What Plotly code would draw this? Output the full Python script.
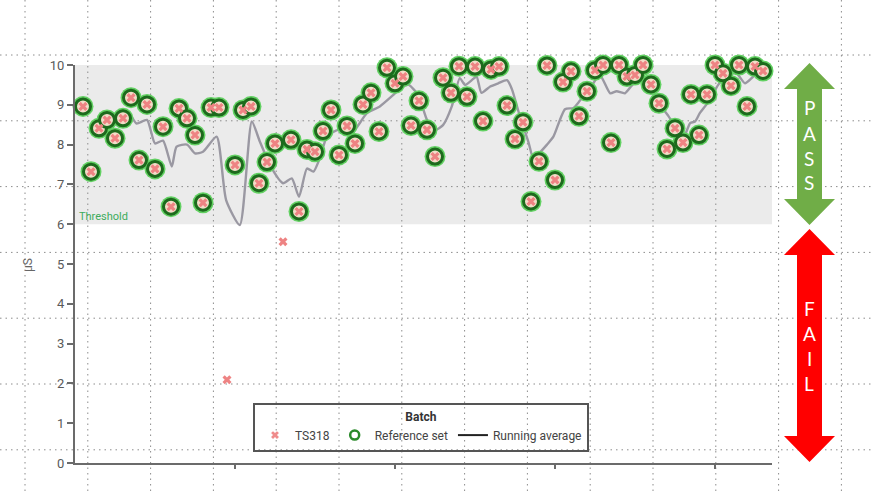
import plotly.graph_objects as go

# ---------------- data ----------------
batch = list(range(1, 87))
ts318 = [8.96, 7.32, 8.41, 8.62, 8.16, 8.66, 9.18, 7.61, 9.01, 7.39,
         8.45, 6.44, 8.91, 8.66, 8.24, 6.54, 8.93, 8.93, 2.09, 7.49,
         8.87, 8.96, 7.03, 7.56, 8.03, 5.56, 8.12, 6.32, 7.88, 7.82,
         8.34, 8.87, 7.74, 8.47, 8.03, 9.01, 9.30, 8.33, 9.93, 9.54,
         9.71, 8.48, 9.10, 8.37, 7.70, 9.68, 9.30, 9.97, 9.20, 9.96,
         8.59, 9.89, 9.96, 8.98, 8.14, 8.56, 6.57, 7.58, 9.99, 7.11,
         9.57, 9.84, 8.71, 9.34, 9.87, 10.0, 8.05, 10.0, 9.71, 9.75,
         10.0, 9.51, 9.04, 7.89, 8.41, 8.05, 9.26, 8.24, 9.26, 10.0,
         9.79, 9.48, 10.0, 8.96, 9.96, 9.85]
outlier_batches = [19, 26]
reference = [None if b in outlier_batches else v for b, v in zip(batch, ts318)]

avg_batch = [7.1, 7.7, 9.0, 10.0, 11.0, 12.1, 12.7, 14.0, 15.0, 16.0,
             17.7, 18.9, 20.6, 22.1, 23.1, 24.6, 26.0, 27.1, 28.0, 29.0,
             29.8, 30.6, 31.5, 32.9, 34.4, 36.5, 38.1, 39.8, 41.0, 41.7,
             42.9, 44.0, 45.0, 46.0, 47.1, 48.1, 48.75, 49.6, 50.2, 50.8,
             51.9, 52.9, 54.0, 54.6, 55.6, 56.7, 57.3, 58.1, 59.0, 59.8,
             61.25, 62.3, 63.1, 64.4, 65.6, 66.9, 67.7, 68.75, 69.5, 70.3,
             71.2, 72.1, 73.1, 74.2, 75.0, 76.0, 76.9, 77.5, 78.1, 79.2,
             80.4, 81.5, 82.7, 83.75, 84.8, 86.0]
avg_value = [8.70, 8.53, 8.62, 8.03, 8.10, 7.45, 7.95, 8.00, 7.78, 7.82,
             8.20, 6.60, 5.98, 8.58, 8.08, 7.40, 7.03, 7.15, 6.69, 7.40,
             7.32, 7.66, 8.20, 8.37, 8.24, 8.79, 8.96, 9.25, 9.46, 9.50,
             9.25, 8.62, 8.37, 8.49, 8.96, 9.67, 9.50, 9.62, 9.71, 9.30,
             9.46, 9.54, 9.62, 9.40, 8.72, 8.05, 7.65, 7.80, 8.00, 8.20,
             8.89, 8.92, 9.10, 9.42, 9.75, 9.29, 9.34, 9.29, 9.46, 9.62,
             9.62, 9.34, 9.00, 8.71, 8.46, 8.16, 8.54, 8.58, 8.79, 9.08,
             9.50, 9.75, 9.79, 9.54, 9.71, 9.87]

y_ticks = list(range(0, 11))
x_ticks = [20, 40, 60, 80]
pass_limits = [6, 10]

# ---------------- geometry helpers (pixel -> paper) ----------------
W, H = 874, 492
L, R, T, B = 75, 772, 65, 463


def px(x):
    return (x - L) / (R - L)


def py(y):
    return (B - y) / (B - T)


fig = go.Figure()

# running average (below markers)
fig.add_trace(go.Scatter(x=avg_batch, y=avg_value, mode="lines",
                         line=dict(color="#9a98a2", width=2.4, shape="spline", smoothing=0.6),
                         showlegend=False, hoverinfo="skip"))
# reference set: glow + ring
fig.add_trace(go.Scatter(x=batch, y=reference, mode="markers",
                         marker=dict(symbol="circle", size=21, color="#62d062"),
                         showlegend=False, cliponaxis=False, hoverinfo="skip"))
fig.add_trace(go.Scatter(x=batch, y=reference, mode="markers",
                         marker=dict(symbol="circle", size=15, color="#f2ddc8",
                                     line=dict(color="#1d6a1d", width=3)),
                         showlegend=False, cliponaxis=False, hoverinfo="skip"))
# TS318 crosses
fig.add_trace(go.Scatter(x=batch, y=ts318, mode="markers",
                         marker=dict(symbol="x", size=8, color="#ee8383", line=dict(width=0)),
                         showlegend=False, cliponaxis=False))

# legend-only entries
fig.add_trace(go.Scatter(x=[None], y=[None], mode="markers", name="TS318",
                         marker=dict(symbol="x", size=7, color="#ef8c8c", line=dict(width=0))))
fig.add_trace(go.Scatter(x=[None], y=[None], mode="markers", name="Reference set",
                         marker=dict(symbol="circle-open", size=9, color="#2a8a2a",
                                     line=dict(width=2.5, color="#2a8a2a"))))
fig.add_trace(go.Scatter(x=[None], y=[None], mode="lines", name="Running average",
                         line=dict(color="#222222", width=2)))

shapes = []
# pass band
shapes.append(dict(type="rect", xref="paper", yref="y", x0=0, x1=1,
                   y0=pass_limits[0], y1=pass_limits[1],
                   fillcolor="#ebebeb", line=dict(width=0), layer="below"))
# background dotted grid (page grid)
for i in range(14):
    xp = 25 + 62.8 * i
    shapes.append(dict(type="line", xref="paper", yref="paper",
                       x0=px(xp), x1=px(xp), y0=py(0), y1=py(H),
                       line=dict(color="#8c8c8c", width=1, dash="1.5px,4px"), layer="below"))
for i in range(7):
    yp = 55 + 65.8 * i
    shapes.append(dict(type="line", xref="paper", yref="paper",
                       x0=px(0), x1=px(W), y0=py(yp), y1=py(yp),
                       line=dict(color="#8c8c8c", width=1, dash="1.5px,4px"), layer="below"))


def double_arrow(top, bottom, color):
    cx, hl, hr, sl, sr = 809.5, 784, 835, 797, 822
    hb1, hb2 = top + 26, bottom - 26
    pts = [(cx, top), (hr, hb1), (sr, hb1), (sr, hb2), (hr, hb2), (cx, bottom),
           (hl, hb2), (sl, hb2), (sl, hb1), (hl, hb1)]
    path = "M " + " L ".join(f"{px(x):.5f},{py(y):.5f}" for x, y in pts) + " Z"
    return dict(type="path", xref="paper", yref="paper", path=path,
                fillcolor=color, line=dict(width=0), layer="above")


shapes.append(double_arrow(63, 225, "#70ad47"))
shapes.append(double_arrow(229, 462, "#ff0000"))

annotations = []
for ch, yp in zip("PASS", [108, 133, 158, 182]):
    annotations.append(dict(text=ch, xref="paper", yref="paper", x=px(809.5), y=py(yp),
                            showarrow=False, font=dict(family="Lato", size=19, color="white"),
                            xanchor="center", yanchor="middle"))
for ch, yp in zip("FAIL", [308, 333, 358, 383]):
    annotations.append(dict(text=ch, xref="paper", yref="paper", x=px(809.5), y=py(yp),
                            showarrow=False, font=dict(family="Lato", size=19, color="white"),
                            xanchor="center", yanchor="middle"))
annotations.append(dict(text="Threshold", xref="paper", yref="paper", x=px(77), y=py(216),
                        showarrow=False, font=dict(family="Roboto", size=11, color="#3dab5c"),
                        xanchor="left", yanchor="middle"))
annotations.append(dict(text="µS", xref="paper", yref="paper", x=px(28), y=py(265),
                        textangle=-90, showarrow=False,
                        font=dict(family="Roboto", size=12, color="#666666"),
                        xanchor="center", yanchor="middle"))

fig.update_layout(
    width=W, height=H,
    margin=dict(l=L, r=W - R, t=T, b=H - B),
    paper_bgcolor="white", plot_bgcolor="rgba(0,0,0,0)",
    shapes=shapes, annotations=annotations,
    xaxis=dict(range=[0, (R - L) / 8], showgrid=False, zeroline=False,
               showline=True, linecolor="#6b6b6b", linewidth=2,
               ticks="outside", ticklen=4, tickcolor="#6b6b6b", tickwidth=2,
               tickvals=x_ticks, showticklabels=False),
    yaxis=dict(range=[0, 10], showgrid=False, zeroline=False,
               showline=True, linecolor="#6b6b6b", linewidth=2,
               ticks="outside", ticklen=6, tickcolor="#6b6b6b", tickwidth=2,
               tickvals=y_ticks, tickfont=dict(family="Roboto", size=13, color="#5a5a5a")),
    legend=dict(orientation="h", x=px(253), y=py(403), xanchor="left", yanchor="top",
                bgcolor="rgba(0,0,0,0)", bordercolor="#555555", borderwidth=2,
                font=dict(family="Roboto", size=12, color="#444444"),
                title=dict(text="<b>Batch</b>", side="top center",
                           font=dict(family="Roboto", size=12, color="#333333")),
                itemsizing="trace"),
    showlegend=True,
)

fig.write_html("out.html", config={"displayModeBar": False},
               post_script="document.body.style.margin='0';document.body.style.padding='0';")
